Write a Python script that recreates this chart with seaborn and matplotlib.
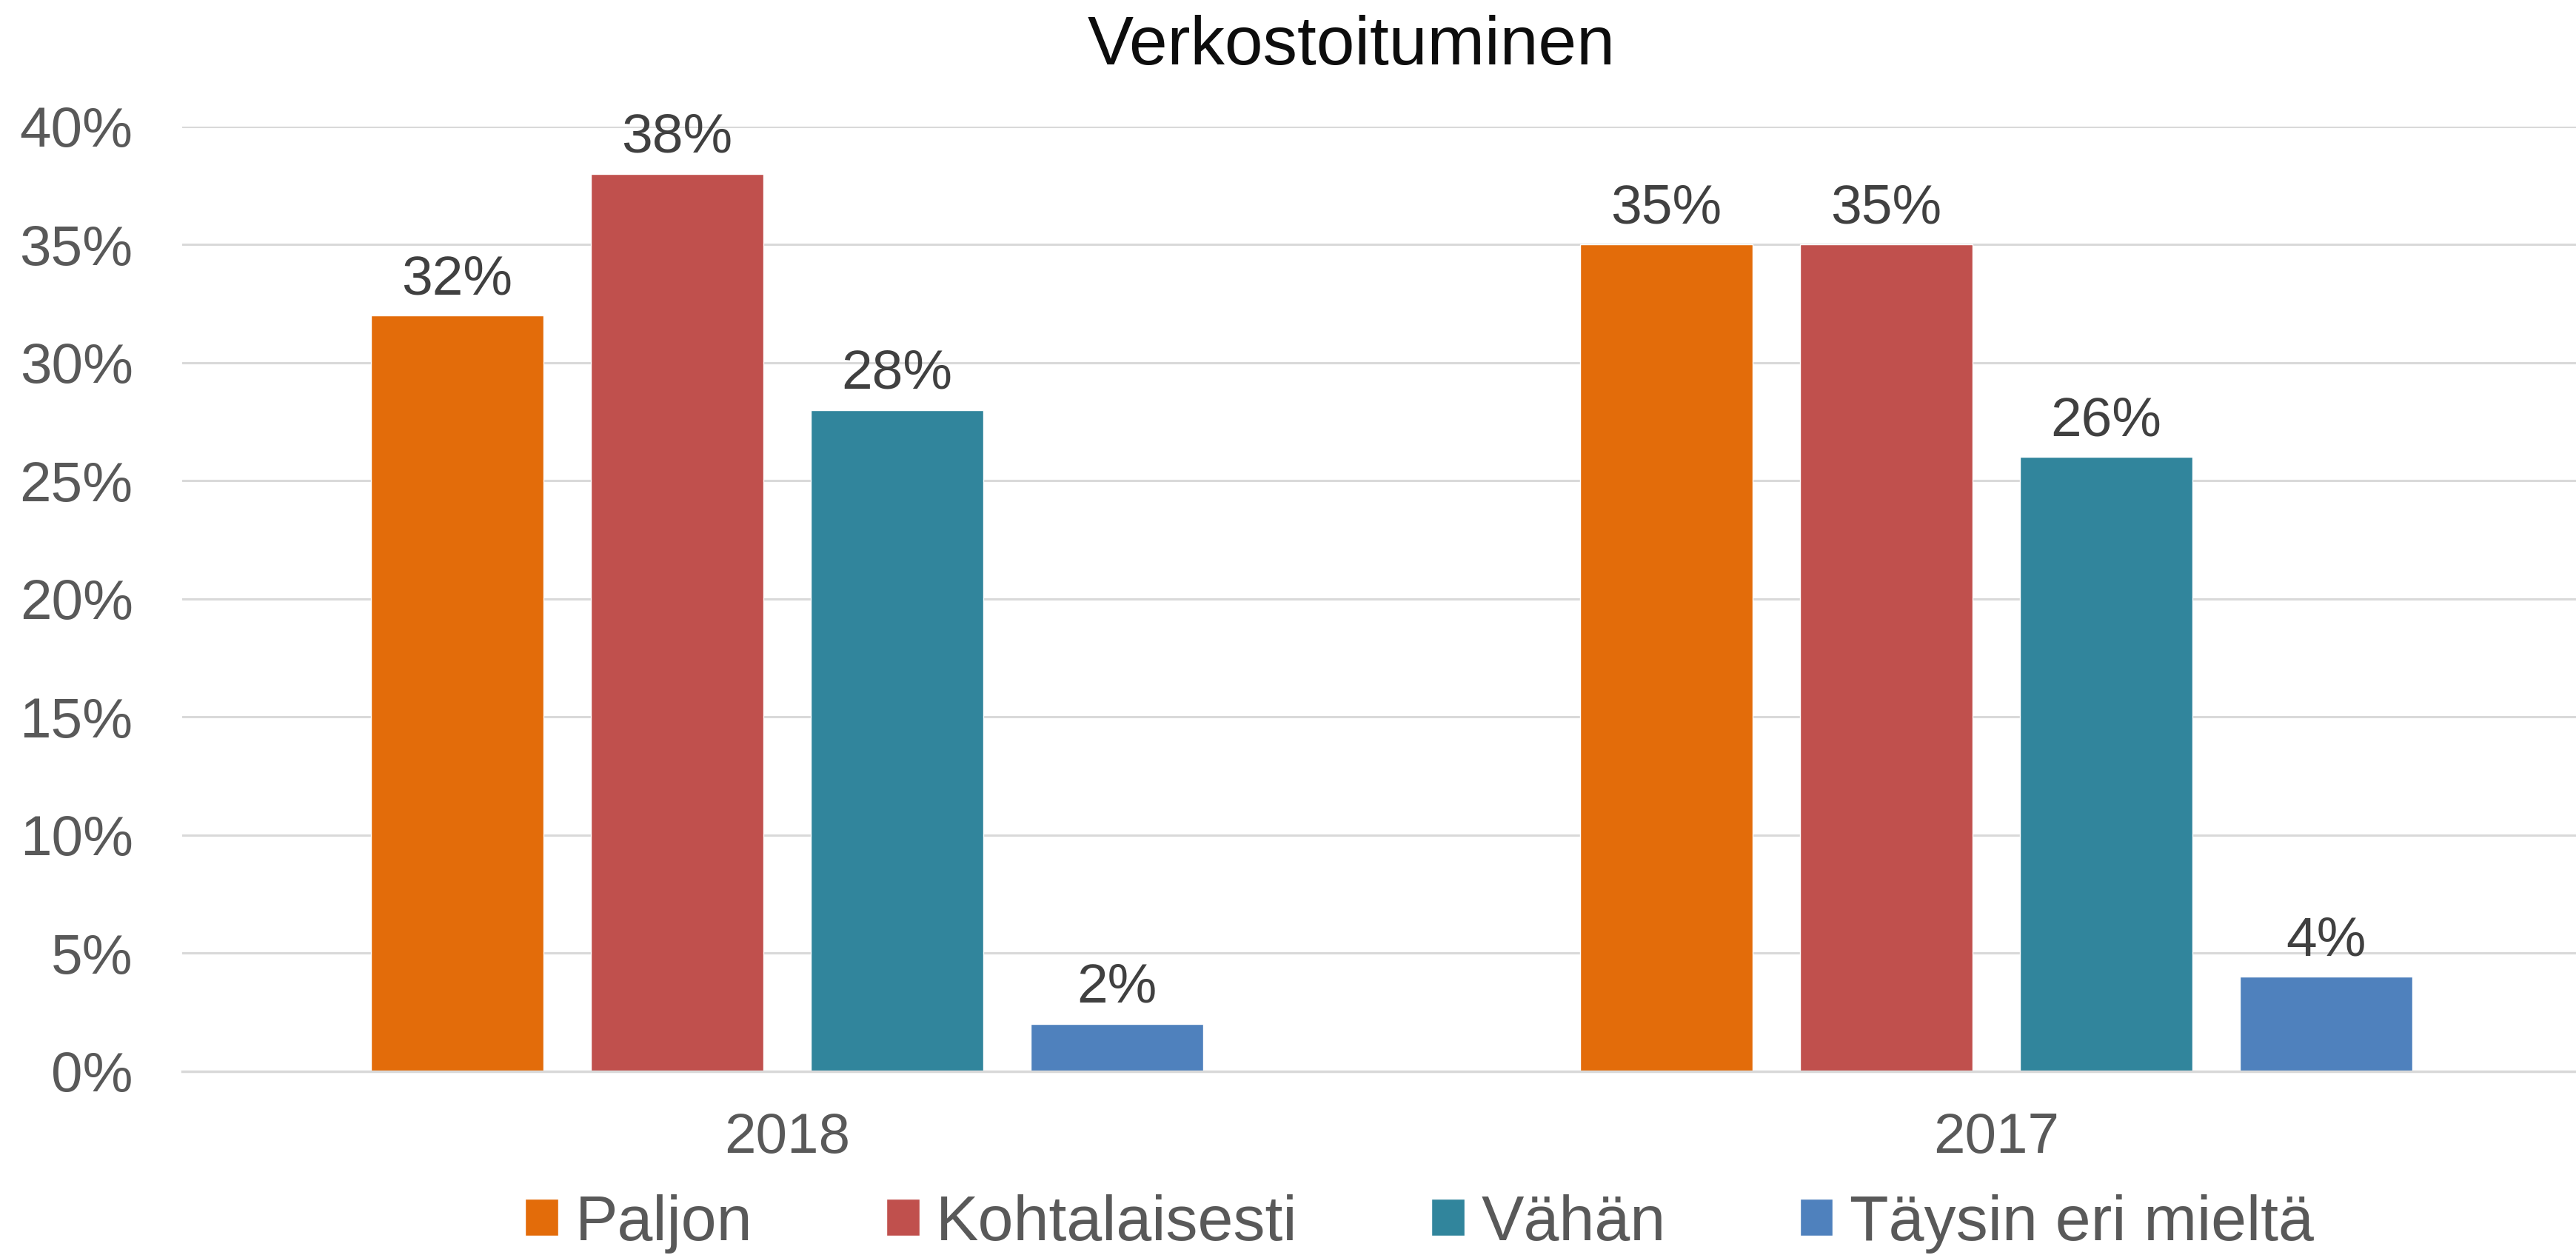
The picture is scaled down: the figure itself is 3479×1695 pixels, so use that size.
import matplotlib
matplotlib.use("Agg")
import matplotlib.pyplot as plt
import seaborn as sns
import pandas as pd
from matplotlib.ticker import PercentFormatter

years = ["2018", "2017"]
answers = ["Paljon", "Kohtalaisesti", "Vähän", "Täysin eri mieltä"]
values_2018 = [0.32, 0.38, 0.28, 0.02]
values_2017 = [0.35, 0.35, 0.26, 0.04]
colors = ["#E36C0A", "#C0504D", "#31859C", "#4F81BD"]
title = "Verkostoituminen"

rows = []
for y, vals in zip(years, [values_2018, values_2017]):
    for a, v in zip(answers, vals):
        rows.append({"Vuosi": y, "Vastaus": a, "Osuus": v})
df = pd.DataFrame(rows)

sns.set_theme(style="white")
plt.rcParams["font.family"] = ["Liberation Sans", "DejaVu Sans"]

fig = plt.figure(figsize=(34.79, 16.95), dpi=100)
ax = fig.add_axes([0.0708, 0.1466, 0.9388, 0.7526])

sns.barplot(data=df, x="Vuosi", y="Osuus", hue="Vastaus", order=years,
            hue_order=answers, palette=colors, width=0.728, gap=0.216,
            saturation=1, errorbar=None, ax=ax, legend=True)

ax.set_ylim(0, 0.40)
ax.set_yticks([i * 0.05 for i in range(9)])
ax.yaxis.set_major_formatter(PercentFormatter(1.0, decimals=0))
ax.grid(axis="y", color="#D9D9D9", linewidth=2.2)
ax.set_axisbelow(True)
for s in ["left", "right", "top"]:
    ax.spines[s].set_visible(False)
ax.spines["bottom"].set_color("#D9D9D9")
ax.spines["bottom"].set_linewidth(2.5)
ax.tick_params(axis="both", length=0, labelsize=55, colors="#595959")
ax.tick_params(axis="y", pad=48)
ax.tick_params(axis="x", pad=40)
ax.set_xlabel("")
ax.set_ylabel("")

for cont in ax.containers:
    ax.bar_label(cont, labels=[f"{v*100:.0f}%" for v in cont.datavalues],
                 padding=10, fontsize=54, color="#404040")

fig.text(0.5245, 0.963, title, ha="center", va="center", fontsize=67, color="#0D0D0D")

handles, labels = ax.get_legend_handles_labels()
ax.get_legend().remove()
fig.legend(handles, labels, loc="center", bbox_to_anchor=(0.551, 0.025), ncol=4,
           frameon=False, fontsize=62, labelcolor="#595959", handlelength=0.52,
           handleheight=0.52, handletextpad=0.26, columnspacing=2.1)

fig.savefig("out.png", dpi=100)
